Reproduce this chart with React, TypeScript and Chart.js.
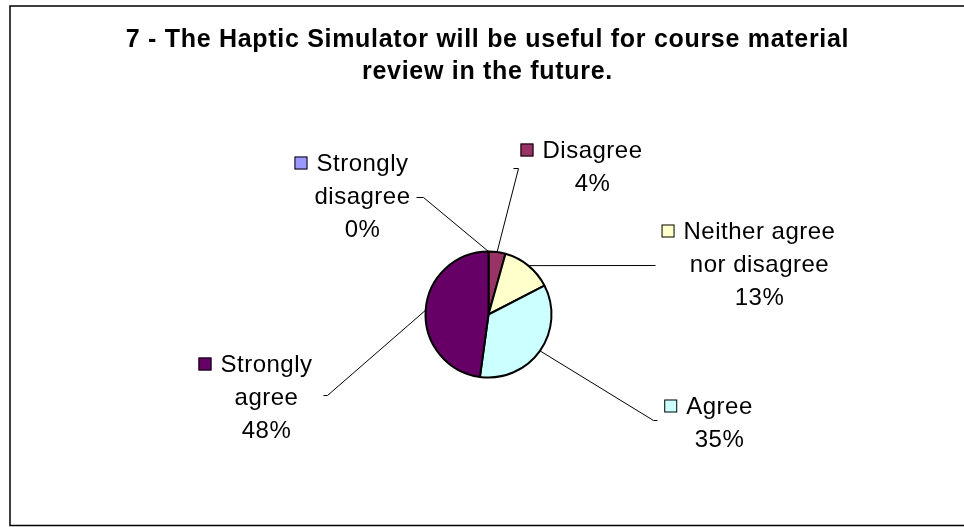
import React, { useEffect, useRef } from "react";
import { Chart, registerables } from "chart.js";

Chart.register(...registerables);

const TITLE_LINES = [
  "7 - The Haptic Simulator will be useful for course material",
  "review in the future.",
];
const CATEGORIES = [
  "Strongly disagree",
  "Disagree",
  "Neither agree nor disagree",
  "Agree",
  "Strongly agree",
];
const LABEL_LINES = [
  ["Strongly", "disagree"],
  ["Disagree"],
  ["Neither agree", "nor disagree"],
  ["Agree"],
  ["Strongly", "agree"],
];
const COUNTS = [0, 1, 3, 8, 11];
const COLORS = ["#9999FF", "#993366", "#FFFFCC", "#CCFFFF", "#660066"];

// label placement relative to pie centre (layout only)
const LABEL_LAYOUT = [
  { ax: -126, by: -144, ex: -65, ey: -117, tick: -7 },
  { ax: 104, by: -157, ex: 30, ey: -146, tick: -5 },
  { ax: 271, by: -76, ex: 167, ey: -49, tick: 0 },
  { ax: 231, by: 99, ex: 165, ey: 106, tick: 4 },
  { ax: -222, by: 57, ex: -161, ey: 81, tick: -4 },
];

const FONT = '"Liberation Sans", Arial, sans-serif';
const LINE_H = 33;

const decorPlugin = {
  id: "decor",
  beforeDraw(chart: any) {
    const ctx = chart.ctx;
    ctx.save();
    ctx.fillStyle = "#ffffff";
    ctx.fillRect(0, 0, chart.width, chart.height);
    ctx.strokeStyle = "#000000";
    ctx.lineWidth = 1.5;
    ctx.strokeRect(10, 6, chart.width + 20, 519.5);
    ctx.restore();
  },
  afterDraw(chart: any) {
    const ctx = chart.ctx;
    const meta = chart.getDatasetMeta(0);
    const total = COUNTS.reduce((a, b) => a + b, 0);
    ctx.save();
    // title
    ctx.fillStyle = "#000";
    ctx.font = `bold 25px ${FONT}`;
    (ctx as any).letterSpacing = "0.7px";
    ctx.textAlign = "center";
    ctx.textBaseline = "alphabetic";
    ctx.fillText(TITLE_LINES[0], 487.5, 47);
    ctx.fillText(TITLE_LINES[1], 487.5, 79);

    meta.data.forEach((arc: any, i: number) => {
      const p = arc.getProps(["x", "y", "startAngle", "endAngle", "outerRadius"], true);
      const mid = (p.startAngle + p.endAngle) / 2;
      const L = LABEL_LAYOUT[i];
      const sx = p.x + p.outerRadius * Math.cos(mid);
      const sy = p.y + p.outerRadius * Math.sin(mid);
      const exx = p.x + L.ex;
      const eyy = p.y + L.ey;
      ctx.strokeStyle = "#000";
      ctx.lineWidth = 1;
      ctx.beginPath();
      ctx.moveTo(sx, sy);
      ctx.lineTo(exx, eyy);
      if (L.tick) ctx.lineTo(exx + L.tick, eyy);
      ctx.stroke();

      const lines = [...LABEL_LINES[i], Math.round((COUNTS[i] / total) * 100) + "%"];
      ctx.font = `24px ${FONT}`;
      (ctx as any).letterSpacing = "0.5px";
      ctx.textAlign = "center";
      ctx.fillStyle = "#000";
      const ax = p.x + L.ax;
      lines.forEach((t, k) => {
        const by = p.y + L.by + k * LINE_H;
        ctx.fillText(t, ax, by);
        if (k === 0) {
          const w = ctx.measureText(t).width;
          const kx = ax - w / 2 - 9 - 13;
          ctx.fillStyle = COLORS[i];
          ctx.fillRect(kx, by - 14, 13, 13);
          ctx.strokeStyle = "#000";
          ctx.lineWidth = 1;
          ctx.strokeRect(kx + 0.5, by - 13.5, 12, 12);
          ctx.fillStyle = "#000";
        }
      });
    });
    ctx.restore();
  },
};

export default function App() {
  const ref = useRef<HTMLCanvasElement | null>(null);
  useEffect(() => {
    if (!ref.current) return;
    const chart = new Chart(ref.current, {
      type: "pie",
      data: {
        labels: CATEGORIES,
        datasets: [
          {
            data: COUNTS,
            backgroundColor: COLORS,
            borderColor: "#000000",
            borderWidth: 2,
          },
        ],
      },
      options: {
        responsive: false,
        animation: false,
        radius: 63,
        layout: { padding: { left: 13, right: 0, top: 102, bottom: 0 } },
        plugins: {
          legend: { display: false },
          tooltip: { enabled: false },
          title: { display: false },
        },
      } as any,
      plugins: [decorPlugin],
    });
    return () => chart.destroy();
  }, []);
  return (
    <div style={{ position: "absolute", left: 0, top: 0, width: 964, height: 527 }}>
      <canvas ref={ref} width={964} height={527} style={{ display: "block" }} />
    </div>
  );
}
